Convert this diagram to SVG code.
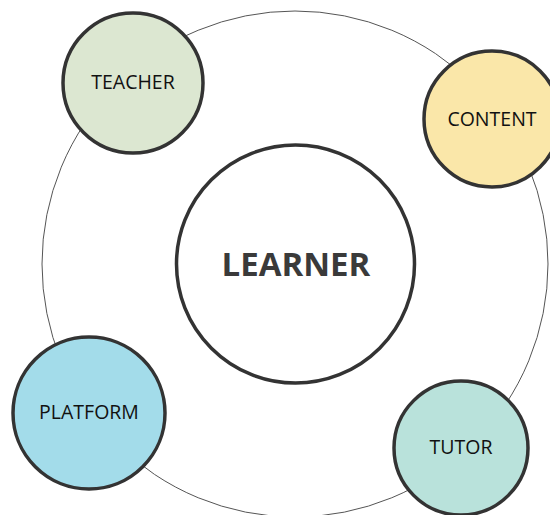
<svg xmlns="http://www.w3.org/2000/svg" width="550" height="515" viewBox="0 0 550 515">
  <style>
    .orbit { fill: none; stroke: #555; stroke-width: 1; }
    .node { stroke: #333; stroke-width: 3.5; }
    .label { font-family: "Open Sans", "Liberation Sans", sans-serif; font-size: 19.5px; fill: #111; text-anchor: middle; }
    .center-label { font-family: "Open Sans", "Liberation Sans", sans-serif; font-size: 33px; font-weight: bold; fill: #3a3a3a; text-anchor: middle; }
  </style>
  <rect width="550" height="515" fill="#fff"/>
  <g id="connectors">
    <circle class="orbit" cx="295" cy="264" r="253"/>
  </g>
  <g id="learner">
    <circle class="node" cx="295.5" cy="264" r="119" fill="#fff" stroke-width="4"/>
    <text class="center-label" x="296" y="276">LEARNER</text>
  </g>
  <g id="teacher">
    <circle class="node" cx="133" cy="83" r="70" fill="#dce7d1"/>
    <text class="label" x="133" y="89">TEACHER</text>
  </g>
  <g id="content">
    <circle class="node" cx="492" cy="119" r="68" fill="#fae7a9"/>
    <text class="label" x="492" y="126">CONTENT</text>
  </g>
  <g id="platform">
    <circle class="node" cx="89" cy="413" r="76" fill="#a3dcea"/>
    <text class="label" x="89" y="419">PLATFORM</text>
  </g>
  <g id="tutor">
    <circle class="node" cx="461" cy="448" r="67" fill="#b9e2db"/>
    <text class="label" x="461" y="454">TUTOR</text>
  </g>
</svg>
